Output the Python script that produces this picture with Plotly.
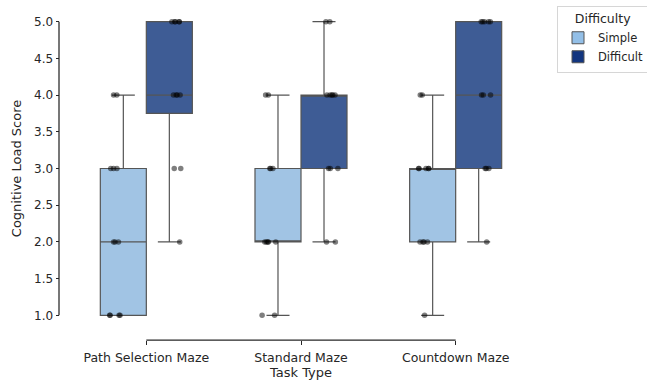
import numpy as np
import plotly.graph_objects as go

# ---------------- data ----------------
tasks = ["Path Selection Maze", "Standard Maze", "Countdown Maze"]
difficulties = ["Simple", "Difficult"]

path_simple = [1, 1, 1, 1, 2, 2, 2, 3, 3, 3, 4, 4]
path_difficult = [2, 3, 3, 4, 4, 4, 4, 5, 5, 5, 5, 5]
standard_simple = [1, 1, 2, 2, 2, 2, 2, 3, 3, 3, 4, 4]
standard_difficult = [2, 2, 3, 3, 3, 4, 4, 4, 4, 4, 5, 5]
countdown_simple = [1, 2, 2, 2, 2, 3, 3, 3, 3, 3, 4, 4]
countdown_difficult = [2, 3, 3, 3, 4, 4, 4, 5, 5, 5, 5, 5]

y_ticks = [1.0, 1.5, 2.0, 2.5, 3.0, 3.5, 4.0, 4.5, 5.0]

scores = {
    "Simple": [path_simple, standard_simple, countdown_simple],
    "Difficult": [path_difficult, standard_difficult, countdown_difficult],
}

# ---------------- style ----------------
box_fill = {"Simple": "#a1c4e4", "Difficult": "#3e5c95"}
legend_fill = {"Simple": "#93bfe7", "Difficult": "#12357f"}
point_pos = {"Simple": -0.35, "Difficult": 0.35}
line_col = "#555555"
txt_col = "#262626"
font_family = "DejaVu Sans"

FIG_W, FIG_H = 647, 380
ML, MR, MT, MB = 59, 114, 7, 40
PW = FIG_W - ML - MR
PH = FIG_H - MT - MB
OFFSET = 10  # despine offset in px


def box_stats(vals):
    a = np.asarray(vals, dtype=float)
    q1, med, q3 = np.percentile(a, [25, 50, 75])
    iqr = q3 - q1
    lo = a[a >= q1 - 1.5 * iqr].min()
    hi = a[a <= q3 + 1.5 * iqr].max()
    return q1, med, q3, lo, hi


fig = go.Figure()

# visible boxes (seaborn-style quartiles)
for d in difficulties:
    st = [box_stats(v) for v in scores[d]]
    fig.add_trace(go.Box(
        x=tasks,
        q1=[s[0] for s in st],
        median=[s[1] for s in st],
        q3=[s[2] for s in st],
        lowerfence=[s[3] for s in st],
        upperfence=[s[4] for s in st],
        name=d,
        offsetgroup=d,
        fillcolor=box_fill[d],
        line=dict(color=line_col, width=1.2),
        whiskerwidth=0.5,
        boxpoints=False,
        showlegend=False,
        hoverinfo="skip",
    ))

# jittered points
for d in difficulties:
    xs, ys = [], []
    for t, v in zip(tasks, scores[d]):
        xs += [t] * len(v)
        ys += list(v)
    fig.add_trace(go.Box(
        x=xs, y=ys,
        name=d,
        offsetgroup=d,
        boxpoints="all",
        jitter=0.35,
        pointpos=point_pos[d],
        fillcolor="rgba(0,0,0,0)",
        line=dict(color="rgba(0,0,0,0)", width=0),
        marker=dict(color="rgba(0,0,0,0.5)", size=5.5, line=dict(width=0)),
        hoveron="points",
        showlegend=False,
    ))

# legend entries
for d in difficulties:
    fig.add_trace(go.Bar(
        x=[None], y=[None], name=d,
        marker=dict(color=legend_fill[d], line=dict(color=line_col, width=1)),
        showlegend=True,
    ))

# trimmed spines
fig.add_shape(type="line", xref="paper", yref="y", x0=0, x1=0,
              y0=y_ticks[0], y1=y_ticks[-1],
              line=dict(color=txt_col, width=1.25))
fig.add_shape(type="line", xref="x", yref="paper", x0=tasks[0], x1=tasks[-1],
              y0=0, y1=0, line=dict(color=txt_col, width=1.25))

fig.update_layout(
    width=FIG_W, height=FIG_H,
    margin=dict(l=ML, r=MR, t=MT, b=MB, pad=0, autoexpand=False),
    paper_bgcolor="white", plot_bgcolor="white",
    font=dict(family=font_family, color=txt_col, size=12),
    boxmode="group", boxgap=0.405, boxgroupgap=0,
    xaxis=dict(
        type="category", categoryorder="array", categoryarray=tasks,
        range=[-0.5, 2.5],
        domain=[OFFSET / PW, 1],
        anchor="free", position=0, automargin=False,
        showline=False, showgrid=False, zeroline=False,
        ticks="outside", ticklen=3.5, tickwidth=1.25, tickcolor=txt_col,
        ticklabelstandoff=2,
        tickfont=dict(size=12.5, color=txt_col),
        title=dict(text="Task Type", font=dict(size=13, color=txt_col), standoff=8),
    ),
    yaxis=dict(
        range=[0.8, 5.2],
        domain=[OFFSET / PH, 1],
        anchor="free", position=0, automargin=False,
        tickmode="array", tickvals=y_ticks,
        ticktext=[f"{v:.1f}" for v in y_ticks],
        showline=False, showgrid=False, zeroline=False,
        ticks="outside", ticklen=3.5, tickwidth=1.25, tickcolor=txt_col,
        tickfont=dict(size=12, color=txt_col),
        title=dict(text="Cognitive Load Score", font=dict(size=13, color=txt_col), standoff=8),
    ),
    legend=dict(
        x=(557 - ML) / PW, y=1 + (MT - 6) / PH,
        xanchor="left", yanchor="top",
        bgcolor="white", bordercolor="#d6d6d6", borderwidth=1,
        font=dict(size=11.5, color=txt_col),
        title=dict(text="Difficulty", side="top center", font=dict(size=12.5, color=txt_col)),
        traceorder="normal",
        tracegroupgap=0,
    ),
    showlegend=True,
)

fig.write_html(
    "out.html",
    config={"displayModeBar": False},
    post_script="document.body.style.margin='0';document.body.style.padding='0';",
)
